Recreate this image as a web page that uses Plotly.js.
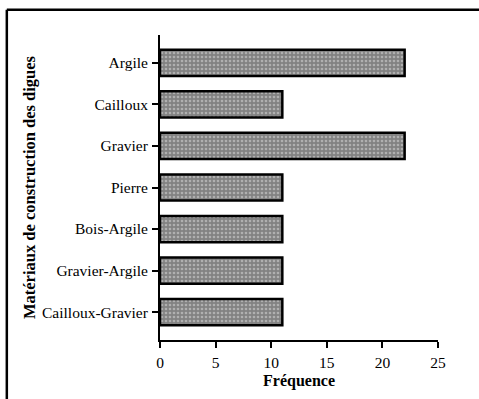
<!DOCTYPE html>
<html>
<head>
<meta charset="utf-8">
<script src="https://cdn.plot.ly/plotly-3.0.1.min.js"></script>
<style>
html,body{margin:0;padding:0;background:#fff;}
#chart{width:479px;height:399px;}
</style>
</head>
<body>
<div id="chart"></div>
<script>
const categories = ["Argile", "Cailloux", "Gravier", "Pierre", "Bois-Argile", "Gravier-Argile", "Cailloux-Gravier"];
const frequencies = [22, 11, 22, 11, 11, 11, 11];
const xTicks = [0, 5, 10, 15, 20, 25];

const serif = "Times New Roman";

const trace = {
  type: "bar",
  orientation: "h",
  y: categories,
  x: frequencies,
  marker: {
    color: "#8c8c8c",
    line: {color: "#000", width: 2.5},
    pattern: {shape: ".", bgcolor: "#828282", fgcolor: "#b0b0b0", size: 4, solidity: 0.35}
  },
  hoverinfo: "skip"
};

const layout = {
  width: 479, height: 399,
  margin: {l: 160, r: 41, t: 35, b: 59},
  paper_bgcolor: "#fff", plot_bgcolor: "#fff",
  showlegend: false,
  bargap: 0.37,
  font: {family: serif, color: "#000", size: 15.5},
  xaxis: {
    range: [0, 25], tickvals: xTicks, ticktext: xTicks.map(String),
    showgrid: false, zeroline: false,
    showline: true, linecolor: "#000", linewidth: 2,
    ticks: "outside", ticklen: 6, tickwidth: 2, tickcolor: "#000",
    ticklabelstandoff: 1,
    tickfont: {family: serif, size: 15.5, color: "#000"},
    title: {text: "<b>Fréquence</b>", font: {family: serif, size: 16, color: "#000"}, standoff: 5},
    automargin: false, fixedrange: true
  },
  yaxis: {
    categoryorder: "array", categoryarray: categories.slice().reverse(),
    range: [-0.67, 6.67],
    showgrid: false, zeroline: false,
    showline: true, linecolor: "#000", linewidth: 2,
    ticks: "outside", ticklen: 6, tickwidth: 2, tickcolor: "#000",
    ticklabelstandoff: 1,
    tickfont: {family: serif, size: 15.5, color: "#000"},
    title: {text: "<b>Matériaux de construction des digues</b>", font: {family: serif, size: 16.5, color: "#000"}, standoff: 2},
    automargin: false, fixedrange: true
  },
  shapes: [
    {type: "line", xref: "paper", yref: "paper", x0: -0.551, x1: -0.551, y0: 1.083, y1: -0.3, line: {color: "#000", width: 2.5}},
    {type: "line", xref: "paper", yref: "paper", x0: -0.551, x1: 1.2, y0: 1.083, y1: 1.083, line: {color: "#000", width: 2.5}}
  ]
};

Plotly.newPlot("chart", [trace], layout, {displayModeBar: false, staticPlot: true});
</script>
</body>
</html>
